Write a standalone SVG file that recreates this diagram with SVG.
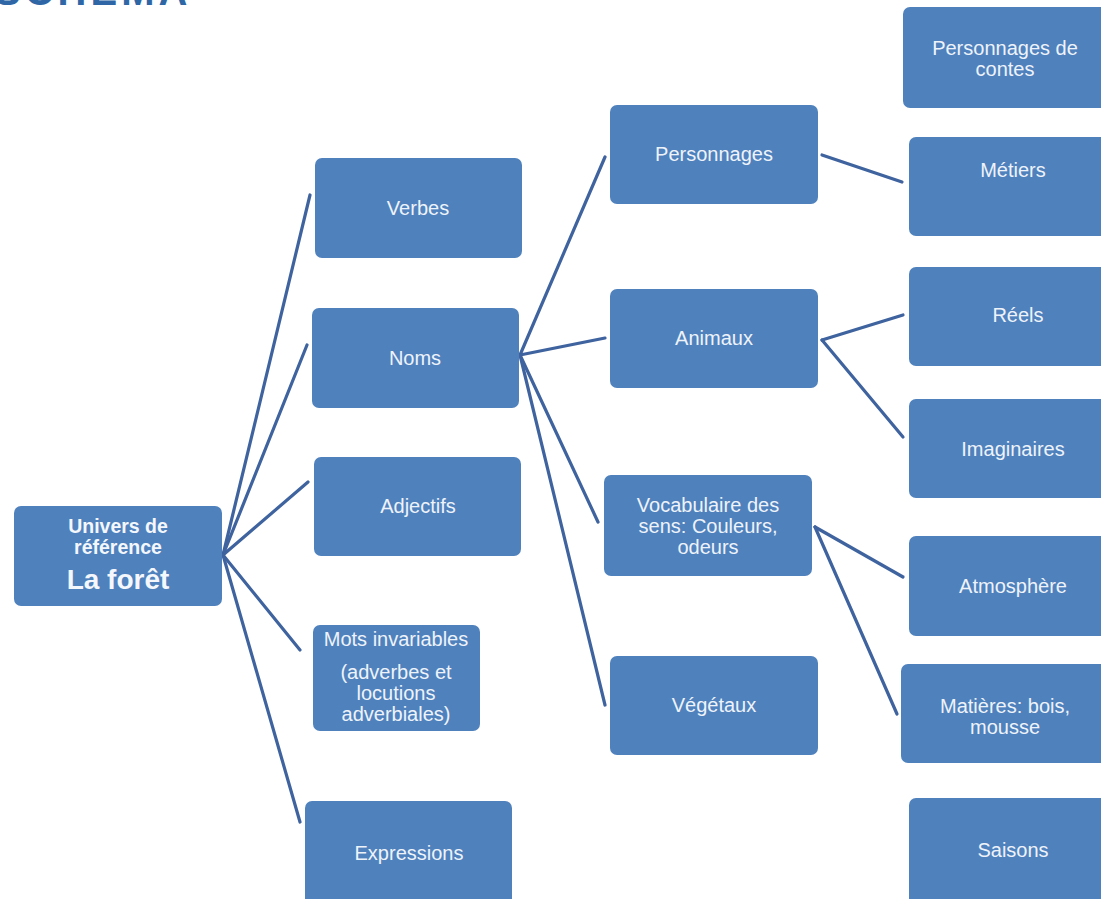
<svg xmlns="http://www.w3.org/2000/svg" width="1101" height="899" viewBox="0 0 1101 899">
<style>
.box{fill:#4f81bd;}
.t{font-family:"Liberation Sans",Arial,sans-serif;font-size:20px;fill:#eef3fa;text-anchor:middle;}
.rb{font-family:"Liberation Sans",Arial,sans-serif;font-weight:bold;fill:#f4f7fc;text-anchor:middle;}
.c{stroke:#3e639e;stroke-width:3.2;fill:none;stroke-linecap:round;}
.h{font-family:"Liberation Sans",Arial,sans-serif;font-weight:bold;font-size:40px;fill:#2f67a6;}
</style>
<rect width="1101" height="899" fill="#ffffff"/>
<text class="h" x="-6" y="5" letter-spacing="4">SCHÉMA</text>
<g id="connectors">
<path class="c" d="M223,555 L310,195"/>
<path class="c" d="M223,555 L307,345"/>
<path class="c" d="M223,555 L308,482"/>
<path class="c" d="M223,555 L300,650"/>
<path class="c" d="M223,555 L300,822"/>
<path class="c" d="M520,355 L605,157"/>
<path class="c" d="M520,355 L605,338"/>
<path class="c" d="M520,355 L598,522"/>
<path class="c" d="M520,355 L605,705"/>
<path class="c" d="M822,155 L902,182"/>
<path class="c" d="M822,340 L903,315"/>
<path class="c" d="M822,340 L903,437"/>
<path class="c" d="M815,527 L903,577"/>
<path class="c" d="M815,527 L897,714"/>
</g>
<g id="root"><rect class="box" x="14" y="506" width="208" height="100" rx="7"/>
<text class="rb" x="118" y="533" font-size="19.5">Univers de</text>
<text class="rb" x="118" y="554" font-size="19.5">référence</text>
<text class="rb" x="118" y="589" font-size="28">La forêt</text></g>
<g id="verbes"><rect class="box" x="315" y="158" width="207" height="100" rx="7"/><text class="t" x="418" y="215">Verbes</text></g>
<g id="noms"><rect class="box" x="312" y="308" width="207" height="100" rx="7"/><text class="t" x="415" y="365">Noms</text></g>
<g id="adjectifs"><rect class="box" x="314" y="457" width="207" height="99" rx="7"/><text class="t" x="418" y="513">Adjectifs</text></g>
<g id="mots"><rect class="box" x="313" y="625" width="167" height="106" rx="7"/>
<text class="t" x="396" y="646">Mots invariables</text>
<text class="t" x="396" y="679">(adverbes et</text>
<text class="t" x="396" y="700">locutions</text>
<text class="t" x="396" y="721">adverbiales)</text></g>
<g id="expressions"><rect class="box" x="305" y="801" width="207" height="104" rx="7"/><text class="t" x="409" y="860">Expressions</text></g>
<g id="personnages"><rect class="box" x="610" y="105" width="208" height="99" rx="7"/><text class="t" x="714" y="161">Personnages</text></g>
<g id="animaux"><rect class="box" x="610" y="289" width="208" height="99" rx="7"/><text class="t" x="714" y="345">Animaux</text></g>
<g id="vocabulaire"><rect class="box" x="604" y="475" width="208" height="101" rx="7"/>
<text class="t" x="708" y="512">Vocabulaire des</text>
<text class="t" x="708" y="533">sens: Couleurs,</text>
<text class="t" x="708" y="554">odeurs</text></g>
<g id="vegetaux"><rect class="box" x="610" y="656" width="208" height="99" rx="7"/><text class="t" x="714" y="712">Végétaux</text></g>
<g id="contes"><rect class="box" x="903" y="7" width="210" height="101" rx="7"/>
<text class="t" x="1005" y="55">Personnages de</text>
<text class="t" x="1005" y="76">contes</text></g>
<g id="metiers"><rect class="box" x="909" y="137" width="204" height="99" rx="7"/><text class="t" x="1013" y="177">Métiers</text></g>
<g id="reels"><rect class="box" x="909" y="267" width="204" height="99" rx="7"/><text class="t" x="1018" y="322">Réels</text></g>
<g id="imaginaires"><rect class="box" x="909" y="399" width="204" height="99" rx="7"/><text class="t" x="1013" y="456">Imaginaires</text></g>
<g id="atmosphere"><rect class="box" x="909" y="536" width="204" height="100" rx="7"/><text class="t" x="1013" y="593">Atmosphère</text></g>
<g id="matieres"><rect class="box" x="901" y="664" width="212" height="99" rx="7"/>
<text class="t" x="1005" y="713">Matières: bois,</text>
<text class="t" x="1005" y="734">mousse</text></g>
<g id="saisons"><rect class="box" x="909" y="798" width="204" height="110" rx="7"/><text class="t" x="1013" y="857">Saisons</text></g>
</svg>
